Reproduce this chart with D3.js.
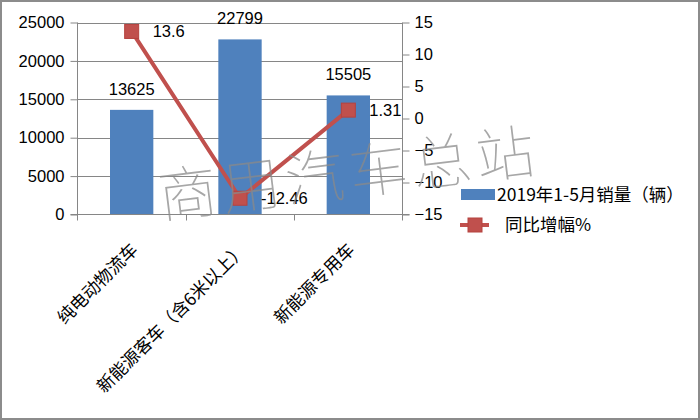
<!DOCTYPE html>
<html><head><meta charset="utf-8">
<script src="https://cdn.jsdelivr.net/npm/d3@7"></script>
<style>body{margin:0;background:#fff;} svg{display:block;}</style>
</head><body>
<svg id="c" width="700" height="420"></svg>
<script>
const categories = ["纯电动物流车", "新能源客车（含6米以上）", "新能源专用车"];
const sales = [13625, 22799, 15505];
const growth = [13.6, -12.46, 1.31];
const leftTicks = [0, 5000, 10000, 15000, 20000, 25000];
const rightTicks = [-15, -10, -5, 0, 5, 10, 15];
const salesName = "2019年1-5月销量（辆）";
const growthName = "同比增幅%";
const watermark = "商用汽车总站";

const svg = d3.select("#c");
const W = 700, H = 420;
const x0 = 77.5, x1 = 402.5, yTop = 22.5, yBot = 214.5;
const numFont = "'Liberation Sans', Arial, sans-serif";
const cjkFont = "'Noto Sans CJK SC', sans-serif";
const gridC = "#868686";

svg.append("rect").attr("x",1).attr("y",1).attr("width",W-2).attr("height",H-2)
  .attr("fill","#fff").attr("stroke","#8c8c8c").attr("stroke-width",2);

const x = d3.scaleBand().domain(categories).range([x0, x1]).paddingInner(0.6).paddingOuter(0.3);
const xc = d3.scaleBand().domain(categories).range([x0, x1]);
const yL = d3.scaleLinear().domain([0, 25000]).range([yBot, yTop]);
const yR = d3.scaleLinear().domain([-15, 15]).range([yBot, yTop]);

// gridlines
svg.append("g").selectAll("line").data(leftTicks.slice(1)).join("line")
  .attr("x1", x0).attr("x2", x1).attr("y1", d=>Math.round(yL(d))+0.5).attr("y2", d=>Math.round(yL(d))+0.5)
  .attr("stroke", gridC).attr("stroke-width",1);

// bars
svg.append("g").selectAll("rect").data(sales).join("rect")
  .attr("x",(d,i)=>x(categories[i])).attr("width",x.bandwidth())
  .attr("y",d=>yL(d)).attr("height",d=>yBot-yL(d)).attr("fill","#4F81BD");

// left axis
const gl = svg.append("g").attr("transform",`translate(${x0},0)`)
  .call(d3.axisLeft(yL).tickValues(leftTicks).tickSize(7).tickPadding(6).tickFormat(d3.format("d")));
gl.select(".domain").remove();
gl.append("line").attr("x1",0).attr("x2",0).attr("y1",yTop).attr("y2",yBot+6).attr("stroke",gridC);
gl.selectAll(".tick line").attr("stroke",gridC);
gl.selectAll("text").attr("font-family",numFont).attr("font-size",16.5).attr("fill","#000");

// right axis
const gr = svg.append("g").attr("transform",`translate(${x1},0)`)
  .call(d3.axisRight(yR).tickValues(rightTicks).tickSize(7).tickPadding(5));
gr.select(".domain").remove();
gr.append("line").attr("x1",0).attr("x2",0).attr("y1",yTop).attr("y2",yBot+6).attr("stroke",gridC);
gr.selectAll(".tick line").attr("stroke",gridC);
gr.selectAll("text").attr("font-family",numFont).attr("font-size",16.5).attr("fill","#000");

// x axis
const gx = svg.append("g").attr("transform",`translate(0,${yBot})`);
gx.append("line").attr("x1",x0-7).attr("x2",x1+7).attr("y1",0).attr("y2",0).attr("stroke",gridC);
gx.selectAll("line.t").data(categories.slice(1)).join("line").attr("class","t")
  .attr("x1",d=>Math.round(xc(d))+0.5).attr("x2",d=>Math.round(xc(d))+0.5).attr("y1",0).attr("y2",6).attr("stroke",gridC);
gx.selectAll("text").data(categories).join("text")
  .attr("transform",d=>`translate(${xc(d)+xc.bandwidth()/2+3},${32}) rotate(-45)`)
  .attr("text-anchor","end").attr("dy","0.35em")
  .attr("font-family",cjkFont).attr("font-size",17.5).attr("fill","#000").text(d=>d);

// bar labels
svg.append("g").selectAll("text").data(sales).join("text")
  .attr("x",(d,i)=>x(categories[i])+x.bandwidth()/2).attr("y",d=>yL(d)-15)
  .attr("text-anchor","middle").attr("font-family",numFont).attr("font-size",16.5).text(d=>d);

// line
const cx = i => xc(categories[i]) + xc.bandwidth()/2;
svg.append("path").datum(growth)
  .attr("d", d3.line().x((d,i)=>cx(i)).y(d=>yR(d)))
  .attr("fill","none").attr("stroke","#C0504D").attr("stroke-width",4).attr("stroke-linejoin","round");
svg.append("g").selectAll("rect").data(growth).join("rect")
  .attr("x",(d,i)=>cx(i)-7).attr("y",d=>yR(d)-7).attr("width",14).attr("height",14)
  .attr("fill","#C0504D").attr("stroke","#B5423F").attr("stroke-width",1);
svg.append("g").selectAll("text").data(growth).join("text")
  .attr("x",(d,i)=>cx(i)+21).attr("y",d=>yR(d)).attr("dy","0.36em")
  .attr("font-family",numFont).attr("font-size",16.5).text(d=>d);

// legend
const lg = svg.append("g");
lg.append("rect").attr("x",461).attr("y",189).attr("width",34).attr("height",11).attr("fill","#4F81BD");
lg.append("text").attr("x",497).attr("y",194.5).attr("dy","0.36em").attr("font-family",cjkFont).attr("font-size",17.5).text(salesName);
lg.append("line").attr("x1",460).attr("x2",489).attr("y1",225).attr("y2",225).attr("stroke","#C0504D").attr("stroke-width",4);
lg.append("rect").attr("x",468).attr("y",218).attr("width",14).attr("height",14).attr("fill","#C0504D").attr("stroke","#B5423F");
lg.append("text").attr("x",505).attr("y",225).attr("dy","0.36em").attr("font-family",cjkFont).attr("font-size",17.5).text(growthName);

// watermark
svg.append("text").attr("transform","translate(161,218) rotate(-7)")
  .attr("font-family","'Noto Sans CJK SC', sans-serif").attr("font-weight",100).attr("font-size",59)
  .attr("fill","#8a8a8a").attr("fill-opacity",0.75).attr("letter-spacing",5).text(watermark);
</script>
</body></html>
